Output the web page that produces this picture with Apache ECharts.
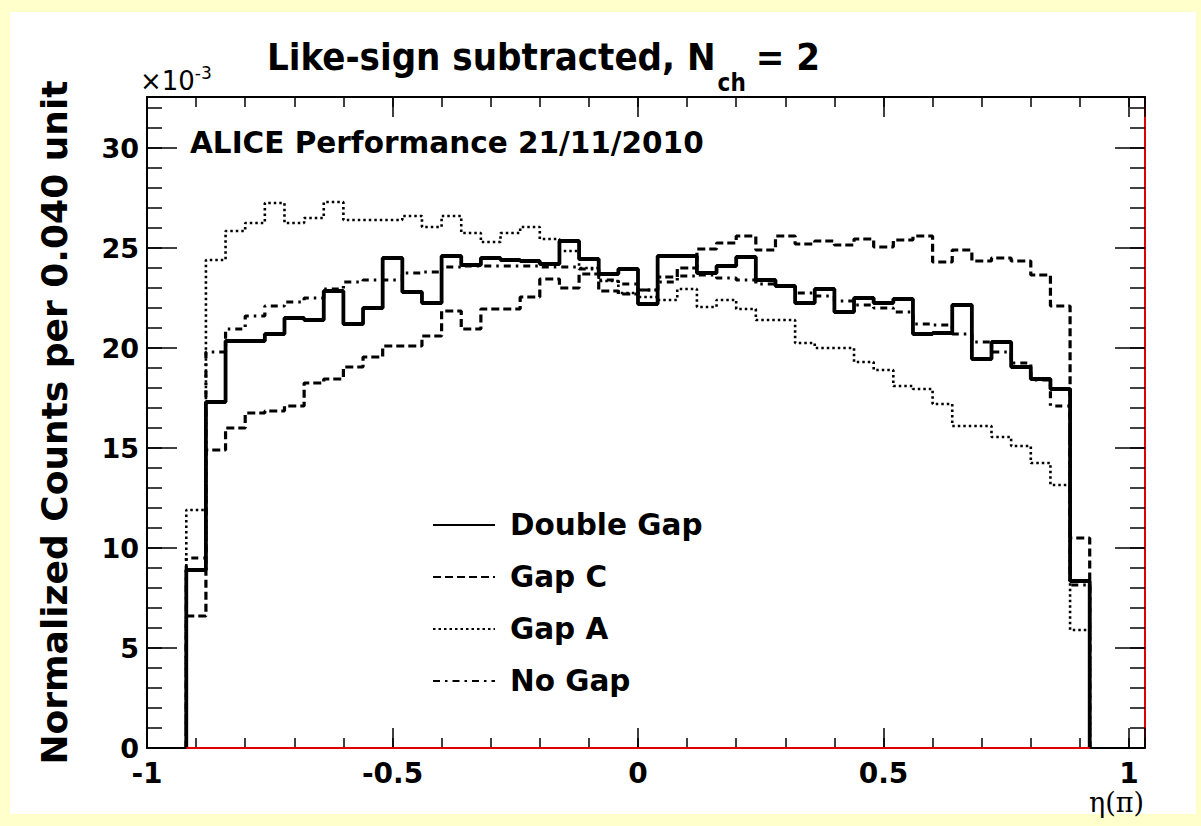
<!DOCTYPE html>
<html><head><meta charset="utf-8">
<script src="https://cdn.jsdelivr.net/npm/echarts@6/dist/echarts.min.js"></script>
<style>html,body{margin:0;padding:0;background:#ffffcc}#c{width:1201px;height:826px}</style>
</head><body><div id="c"></div>
<script>
// ---- data (bins of width 0.04 from -0.92 to 0.92) ----
const binLow = -0.92;
const binWidth = 0.04;
const doubleGap = [8.9, 17.3, 20.35, 20.35, 20.7, 21.5, 21.4, 22.85, 21.2, 22.0,
  24.5, 22.8, 22.25, 24.6, 24.15, 24.5, 24.4, 24.35, 24.2, 25.35,
  24.45, 23.7, 23.95, 22.2, 24.6, 24.6, 23.75, 24.1, 24.55, 23.4,
  23.1, 22.25, 22.95, 21.8, 22.5, 22.25, 22.45, 20.7, 20.75, 22.15,
  19.45, 20.3, 19.05, 18.45, 17.95, 8.35];
const gapC = [6.6, 14.9, 16.0, 16.75, 16.85, 17.1, 18.25, 18.45, 19.05, 19.55,
  20.1, 20.1, 20.6, 21.85, 20.95, 21.95, 21.95, 22.55, 23.45, 23.0,
  23.7, 22.85, 22.7, 22.9, 23.55, 24.0, 24.95, 25.25, 25.6, 24.9,
  25.6, 25.2, 25.35, 25.15, 25.45, 25.05, 25.4, 25.6, 24.3, 24.9,
  24.35, 24.5, 24.35, 23.65, 22.1, 10.5];
const gapA = [11.9, 24.4, 25.85, 26.25, 27.25, 26.25, 26.5, 27.3, 26.4, 26.4,
  26.4, 26.6, 26.05, 26.6, 25.75, 25.3, 25.75, 26.05, 25.45, 24.85,
  24.0, 23.35, 22.75, 22.55, 22.4, 22.95, 22.05, 22.4, 21.95, 21.4,
  21.4, 20.25, 20.0, 20.0, 19.3, 18.9, 18.1, 17.95, 17.2, 16.1,
  16.1, 15.55, 15.1, 14.25, 13.15, 5.9];
const noGap = [9.5, 19.8, 20.95, 21.6, 22.1, 22.3, 22.5, 22.95, 23.3, 23.4,
  23.4, 23.75, 23.8, 24.05, 24.1, 24.1, 24.1, 24.1, 24.05, 24.05,
  23.95, 23.4, 23.2, 22.9, 23.3, 23.6, 23.65, 23.5, 23.4, 23.2,
  23.1, 22.75, 22.6, 22.35, 22.15, 22.0, 21.8, 21.2, 21.15, 20.7,
  20.3, 19.8, 19.25, 18.4, 17.1, 8.15];
const seriesNames = ['Double Gap', 'Gap C', 'Gap A', 'No Gap'];
const xMin = -1, xMax = 1.0326;
const yMin = 0, yMax = 32.55;

// ---- helpers ----
function steps(vals) {
  const pts = [[binLow, 0]];
  vals.forEach((v, i) => {
    const lo = binLow + i * binWidth;
    pts.push([lo, v], [lo + binWidth, v]);
  });
  pts.push([binLow + vals.length * binWidth, 0]);
  return pts;
}
const FONT = 'DejaVu Sans';
const CFONT = '"DejaVu Sans Condensed", "Liberation Sans Narrow", "DejaVu Sans", sans-serif';
const isMult = (v, s) => Math.abs(v / s - Math.round(v / s)) < 1e-6;

const chart = echarts.init(document.getElementById('c'), null, {renderer: 'svg'});

function xAx(grid, pos, major, show) {
  return {
    type: 'value', gridIndex: grid, position: pos, min: xMin, max: xMax,
    interval: major ? 0.5 : 0.1,
    axisLine: {show: major, onZero: false, lineStyle: {color: '#000', width: 2}},
    axisTick: {show: true, inside: true, length: major ? 20 : 10, lineStyle: {color: '#000', width: 1.5}},
    axisLabel: {show: show, color: '#000', fontFamily: FONT, fontWeight: 'bold', fontSize: 28, margin: 13, lineHeight: 24,
      formatter: v => (isMult(v, 0.5) && v <= 1.0001) ? String(+v.toFixed(1)) : ''},
    splitLine: {show: false}
  };
}
function yAx(grid, pos, major, show, color) {
  return {
    type: 'value', gridIndex: grid, position: pos, min: yMin, max: yMax,
    interval: major ? 5 : 1,
    axisLine: {show: major, onZero: false, lineStyle: {color: color, width: 2}},
    axisTick: {show: true, inside: true, length: major ? 30 : 15, lineStyle: {color: '#000', width: 1.5}},
    axisLabel: {show: show, color: '#000', fontFamily: FONT, fontWeight: 'bold', fontSize: 27, margin: 8, lineHeight: 20,
      formatter: v => (isMult(v, 5) && v <= 30.001) ? String(Math.round(v)) : ''},
    splitLine: {show: false},
    name: show ? 'Normalized Counts per 0.040 unit' : '',
    nameLocation: 'middle', nameRotate: 90, nameGap: 75,
    nameTextStyle: {color: '#000', fontFamily: FONT, fontWeight: 'bold', fontSize: 36}
  };
}

const styles = [
  {width: 3.8, type: 'solid'},
  {width: 3.2, type: [8, 4]},
  {width: 2.6, type: [2.5, 3]},
  {width: 3.2, type: [7, 5, 2.5, 5]}
];
const data = [doubleGap, gapC, gapA, noGap];

const series = data.map((vals, i) => ({
  name: seriesNames[i], type: 'line', xAxisIndex: 0, yAxisIndex: 0,
  data: steps(vals), symbol: 'none', showSymbol: false, animation: false,
  lineStyle: {color: '#000', width: styles[i].width, type: styles[i].type},
  itemStyle: {color: '#000'},
  z: 10 - i
}));
series.push({
  name: 'zero', type: 'line', xAxisIndex: 0, yAxisIndex: 0, symbol: 'none', animation: false,
  data: [[binLow, 0], [binLow + doubleGap.length * binWidth, 0]],
  lineStyle: {color: '#e00000', width: 2}, z: 20, silent: true
});

chart.setOption({
  backgroundColor: '#ffffcc',
  animation: false,
  grid: [
    {left: 147, right: 56, top: 97, bottom: 78, containLabel: false},
    {left: 147, right: 56, top: 97, bottom: 78, containLabel: false}
  ],
  xAxis: [xAx(0, 'bottom', true, true), xAx(0, 'top', true, false),
          xAx(1, 'bottom', false, false), xAx(1, 'top', false, false)],
  yAxis: [yAx(0, 'left', true, true, '#000'), yAx(0, 'right', true, false, '#e00000'),
          yAx(1, 'left', false, false, '#000'), yAx(1, 'right', false, false, '#000')],
  title: {
    text: '{m|Like-sign subtracted, N}{s|ch}{m|= 2}',
    left: 267, top: 38, padding: 0,
    textStyle: {rich: {
      m: {fontFamily: CFONT, fontWeight: 'bold', fontSize: 38, color: '#000', verticalAlign: 'top', lineHeight: 44},
      s: {fontFamily: CFONT, fontWeight: 'bold', fontSize: 24, color: '#000', verticalAlign: 'top', lineHeight: 24, padding: [33, 10, 0, 2]}
    }}
  },
  legend: {
    data: seriesNames, orient: 'vertical', left: 432, top: 510, padding: 0,
    itemWidth: 62, itemHeight: 14, itemGap: 22,
    itemStyle: {opacity: 0},
    textStyle: {color: '#000', fontFamily: FONT, fontWeight: 'bold', fontSize: 29.5, lineHeight: 30, padding: [0, 0, 0, 10]}
  },
  graphic: [
    {type: 'rect', z: -10, shape: {x: 10, y: 12, width: 1186, height: 802}, style: {fill: '#ffffff'}},
    {type: 'text', left: 190, top: 128, style: {text: 'ALICE Performance 21/11/2010', fill: '#000', font: 'bold 29.5px "DejaVu Sans"'}},
    {type: 'text', left: 140, top: 62, style: {text: '{a|×10}{b|-3}', fill: '#000',
      rich: {a: {fontFamily: FONT, fontSize: 26, verticalAlign: 'bottom', lineHeight: 30, padding: [6, 0, 0, 0]},
             b: {fontFamily: FONT, fontSize: 17, verticalAlign: 'top', lineHeight: 20}}}},
    {type: 'text', right: 57, top: 789, style: {text: 'η(π)', fill: '#000', font: '27px "DejaVu Serif"'}}
  ],
  series: series
});
</script></body></html>
